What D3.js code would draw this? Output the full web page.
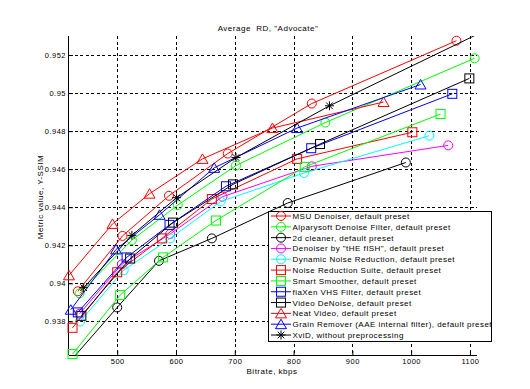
<!DOCTYPE html>
<meta charset="utf-8">
<style>
body { margin: 0; background: #fff; }
svg { font-family: "Liberation Sans", Arial, sans-serif; }
.grid line { stroke: #000; stroke-width: 1; stroke-dasharray: 3,2.5; shape-rendering: crispEdges; }
.ticklab { font-size: 7.5px; letter-spacing: 0.5px; fill: #000; }
.lab { font-size: 8px; letter-spacing: 0.5px; fill: #000; white-space: pre; }
.legend text { font-size: 8px; letter-spacing: 0.45px; }
</style>
<body>
<script src="https://cdn.jsdelivr.net/npm/d3@7"></script>
<script>
// series names (legend order = plot order)
var names = [
  "MSU Denoiser, default preset",
  "Alparysoft Denoise Filter, default preset",
  "2d cleaner, default preset",
  "Denoiser by \"tHE fISH\", default preset",
  "Dynamic Noise Reduction, default preset",
  "Noise Reduction Suite, default preset",
  "Smart Smoother, default preset",
  "fiaXen VHS Filter, default preset",
  "Video DeNoise, default preset",
  "Neat Video, default preset",
  "Grain Remover (AAE internal filter), default preset",
  "XviD, without preprocessing"
];

// bitrate (kbps) and Y-SSIM per series
var msuRate = [433, 509, 588, 688, 831, 1077];
var msuSsim = [0.93958, 0.94249, 0.9446, 0.94682, 0.94945, 0.95275];
var alparyRate = [436, 525, 603, 702, 854, 1108];
var alparySsim = [0.93947, 0.94227, 0.94411, 0.94619, 0.94845, 0.95183];
var cleanerRate = [420, 500, 571, 661, 790, 991];
var cleanerSsim = [0.9359, 0.93873, 0.94118, 0.94236, 0.94422, 0.94635];
var fishRate = [436, 508, 590, 679, 831, 1063];
var fishSsim = [0.9384, 0.941, 0.94259, 0.94455, 0.94615, 0.94725];
var dnrRate = [437, 511, 590, 676, 818, 1031];
var dnrSsim = [0.93799, 0.94069, 0.94236, 0.9443, 0.9458, 0.94776];
var nrsRate = [424, 500, 576, 661, 806, 1002];
var nrsSsim = [0.93766, 0.94058, 0.94236, 0.94443, 0.94654, 0.94794];
var smartRate = [424, 505, 578, 668, 819, 1050];
var smartSsim = [0.93628, 0.93938, 0.94136, 0.9433, 0.94612, 0.9489];
var vhsRate = [433, 516, 589, 685, 830, 1070];
var vhsSsim = [0.93847, 0.94136, 0.94307, 0.9451, 0.9471, 0.94996];
var vdnRate = [439, 522, 595, 697, 845, 1099];
var vdnSsim = [0.93829, 0.9413, 0.94319, 0.9452, 0.94732, 0.95077];
var neatRate = [418, 492, 555, 645, 764, 953];
var neatSsim = [0.94042, 0.94312, 0.94471, 0.94654, 0.94816, 0.94953];
var grainRate = [421, 498, 572, 665, 806, 1016];
var grainSsim = [0.93861, 0.94178, 0.9436, 0.94607, 0.94816, 0.95045];
var xvidRate = [443, 525, 601, 702, 861, 1140];
var xvidSsim = [0.93977, 0.94252, 0.9445, 0.94661, 0.94933, 0.9535];

var rates = [msuRate, alparyRate, cleanerRate, fishRate, dnrRate, nrsRate, smartRate, vhsRate, vdnRate, neatRate, grainRate, xvidRate];
var ssims = [msuSsim, alparySsim, cleanerSsim, fishSsim, dnrSsim, nrsSsim, smartSsim, vhsSsim, vdnSsim, neatSsim, grainSsim, xvidSsim];

// tick values
var xTicks = [500, 600, 700, 800, 900, 1000, 1100];
var yTicks = [0.938, 0.94, 0.942, 0.944, 0.946, 0.948, 0.95, 0.952];

// styles
var colors = ["#f00", "#0f0", "#000", "#f0f", "#0ff", "#f00", "#0f0", "#00f", "#000", "#f00", "#00f", "#000"];
var markers = ["o", "o", "o", "o", "o", "s", "s", "s", "s", "^", "^", "*"];

var W = 530, H = 389;
var pLeft = 69, pTop = 36, pRight = 477, pBottom = 355;

var x = d3.scaleLinear().domain([418, 1112]).range([pLeft, pRight]);
var y = d3.scaleLinear().domain([0.93623, 0.953]).range([pBottom, pTop]);

var svg = d3.select("body").append("svg")
  .attr("width", W)
  .attr("height", H);

svg.append("rect").attr("width", W).attr("height", H).attr("fill", "#fff");

svg.append("defs").append("clipPath").attr("id", "plot")
  .append("rect")
  .attr("x", pLeft).attr("y", pTop)
  .attr("width", pRight - pLeft).attr("height", pBottom - pTop);

// dashed grid
var grid = svg.append("g").attr("class", "grid");
grid.selectAll(".gx").data(xTicks).enter().append("line")
  .attr("x1", function(d) { return Math.round(x(d)) + 0.5; })
  .attr("x2", function(d) { return Math.round(x(d)) + 0.5; })
  .attr("y1", pTop).attr("y2", pBottom);
grid.selectAll(".gy").data(yTicks).enter().append("line")
  .attr("y1", function(d) { return Math.round(y(d)) + 0.5; })
  .attr("y2", function(d) { return Math.round(y(d)) + 0.5; })
  .attr("x1", pLeft).attr("x2", pRight);

// axes (ticks inward, no box)
var xAxis = d3.axisBottom(x).tickValues(xTicks).tickSize(-4).tickPadding(4).tickFormat(d3.format("d"));
var yAxis = d3.axisLeft(y).tickValues(yTicks).tickSize(-4).tickPadding(3)
  .tickFormat(function(d) { return String(+d.toFixed(3)); });

var gx = svg.append("g")
  .attr("transform", "translate(0," + pBottom + ")")
  .call(xAxis);
var gy = svg.append("g")
  .attr("transform", "translate(" + pLeft + ",0)")
  .call(yAxis);
[gx, gy].forEach(function(g) {
  g.attr("font-family", null).attr("font-size", null);
  g.select(".domain").attr("stroke", "#000");
  g.selectAll("text").attr("class", "ticklab");
});
gx.select(".domain").attr("d", "M" + pLeft + ",0.5H" + pRight);
gy.select(".domain").attr("d", "M-0.5," + pTop + "V" + pBottom);

// series lines, clipped to axes
var line = d3.line()
  .x(function(d) { return x(d[0]); })
  .y(function(d) { return y(d[1]); });

var plot = svg.append("g");

function drawMarker(g, type, color) {
  if (type == "o") {
    g.append("circle").attr("r", 4.5).attr("fill", "none").attr("stroke", color);
  } else if (type == "s") {
    g.append("rect").attr("x", -4.5).attr("y", -4.5).attr("width", 9).attr("height", 9)
      .attr("fill", "none").attr("stroke", color);
  } else if (type == "^") {
    g.append("path").attr("d", "M0,-5L5.5,4.5L-5.5,4.5Z").attr("fill", "none").attr("stroke", color);
  } else {
    g.append("path").attr("d", "M-4.5,0H4.5M0,-4.5V4.5M-3.3,-3.3L3.3,3.3M-3.3,3.3L3.3,-3.3")
      .attr("fill", "none").attr("stroke", color);
  }
}

names.forEach(function(name, i) {
  var pts = rates[i].map(function(r, j) { return [r, ssims[i][j]]; });
  var g = plot.append("g");
  g.append("path")
    .attr("d", line(pts))
    .attr("clip-path", "url(#plot)")
    .attr("fill", "none")
    .attr("stroke", colors[i])
    .attr("stroke-width", 1);
  pts.forEach(function(p) {
    if (p[0] < x.domain()[0] || p[0] > x.domain()[1] || p[1] < y.domain()[0] || p[1] > y.domain()[1]) return;
    var m = g.append("g").attr("transform", "translate(" + x(p[0]) + "," + y(p[1]) + ")");
    drawMarker(m, markers[i], colors[i]);
  });
});

// title and axis labels
svg.append("text")
  .attr("class", "lab")
  .attr("x", 268).attr("y", 31)
  .attr("text-anchor", "middle")
  .text("Average  RD, \"Advocate\"");

svg.append("text")
  .attr("class", "lab")
  .attr("x", 272).attr("y", 374)
  .attr("text-anchor", "middle")
  .text("Bitrate, kbps");

svg.append("text")
  .attr("class", "lab")
  .attr("transform", "translate(43,197) rotate(-90)")
  .attr("text-anchor", "middle")
  .text("Metric value, Y-SSIM");

// legend
var legend = svg.append("g").attr("class", "legend");
legend.append("rect")
  .attr("x", 268.5).attr("y", 211.5)
  .attr("width", 223).attr("height", 130)
  .attr("fill", "#fff").attr("stroke", "#000");

names.forEach(function(name, i) {
  var ly = 216 + i * 10.82;
  var row = legend.append("g").attr("transform", "translate(0," + ly + ")");
  row.append("line").attr("x1", 271).attr("x2", 291).attr("y1", 0).attr("y2", 0)
    .attr("stroke", colors[i]);
  var m = row.append("g").attr("transform", "translate(281,0)");
  drawMarker(m, markers[i], colors[i]);
  row.append("text").attr("x", 292.5).attr("y", 3).text(name);
});
</script>
</body>
